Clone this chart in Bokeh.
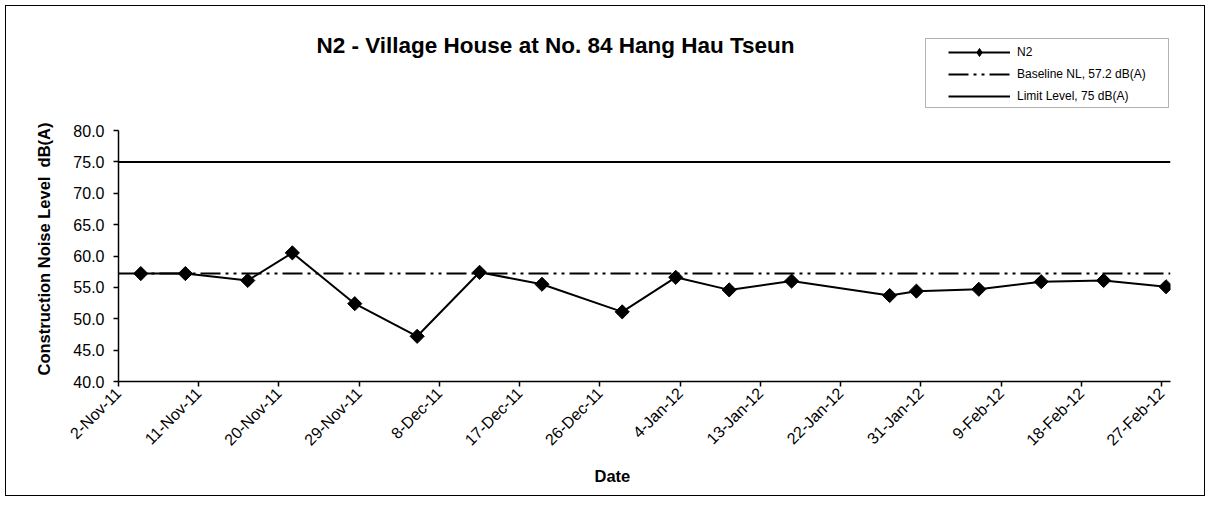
from math import pi
from datetime import datetime
from bokeh.plotting import figure
from bokeh.models import (Range1d, FixedTicker, DatetimeTickFormatter, NumeralTickFormatter,
                          Legend, LegendItem, Label, Title, BoxAnnotation)
from bokeh.embed import file_html
from bokeh.resources import INLINE

# ---- data ----
dates = ["4-Nov-11", "9-Nov-11", "16-Nov-11", "21-Nov-11", "28-Nov-11", "5-Dec-11",
         "12-Dec-11", "19-Dec-11", "28-Dec-11", "3-Jan-12", "9-Jan-12", "16-Jan-12",
         "27-Jan-12", "30-Jan-12", "6-Feb-12", "13-Feb-12", "20-Feb-12", "27-Feb-12"]
n2_levels = [57.2, 57.2, 56.1, 60.5, 52.4, 47.2, 57.4, 55.5, 51.1, 56.6, 54.6, 56.0,
             53.7, 54.4, 54.7, 55.9, 56.1, 55.1]
baseline_level = 57.2
limit_level = 75.0
x_tick_labels = ["2-Nov-11", "11-Nov-11", "20-Nov-11", "29-Nov-11", "8-Dec-11", "17-Dec-11",
                 "26-Dec-11", "4-Jan-12", "13-Jan-12", "22-Jan-12", "31-Jan-12", "9-Feb-12",
                 "18-Feb-12", "27-Feb-12"]
y_ticks = [40, 45, 50, 55, 60, 65, 70, 75, 80]

title_text = "N2 - Village House at No. 84 Hang Hau Tseun"
x_label = "Date"
y_label = "Construction Noise Level\u00a0 dB(A)"
legend_labels = ["N2", "Baseline NL, 57.2 dB(A)", "Limit Level, 75 dB(A)"]

FONT = "Liberation Sans"
DAY_MS = 86400000

# ---- layout (page pixels) ----
OFF = 6                      # 5px css margin + 1px border
W, H = 1200, 491
FRAME_L, FRAME_R, FRAME_T, FRAME_B = 118, 1170, 10, 381   # page coordinates
AXIS_TOP_PX = 130            # page y where 80.0 sits
Y_MIN, Y_MAX = 40, 80


def to_ms(s):
    d = datetime.strptime(s, "%d-%b-%y")
    return int((d - datetime(1970, 1, 1)).total_seconds() * 1000)


# Excel date axis "between tick marks": each day's value sits mid-day
xs = [to_ms(d) + DAY_MS // 2 for d in dates]
tick_ms = [to_ms(t) for t in x_tick_labels]
x_start = tick_ms[0]
x_end = tick_ms[-1] + DAY_MS
y_top = Y_MIN + (Y_MAX - Y_MIN) * (FRAME_B - FRAME_T) / (FRAME_B - AXIS_TOP_PX)

p = figure(width=W, height=H, x_axis_type="datetime",
           output_backend="svg", toolbar_location=None,
           x_range=Range1d(x_start, x_end), y_range=Range1d(Y_MIN, y_top),
           min_border_left=FRAME_L - OFF, min_border_right=W - (FRAME_R - OFF),
           min_border_top=FRAME_T - OFF, min_border_bottom=H - (FRAME_B - OFF))
p.outline_line_color = None
p.grid.visible = False
p.background_fill_color = "white"
p.border_fill_color = "white"
p.styles = {"border": "1px solid black", "margin": "5px 0 0 5px"}

limit_r = p.line([x_start, x_end], [limit_level, limit_level],
                 line_color="black", line_width=2)
base_r = p.line([x_start, x_end], [baseline_level, baseline_level],
                line_color="black", line_width=2, line_dash="20 5 3 5 3 5")
n2_line = p.line(xs, n2_levels, line_color="black", line_width=2)
n2_pts = p.scatter(xs, n2_levels, marker="square", angle=pi / 4, size=10,
                   fill_color="black", line_color="black")
# legend-only diamond swatch (its single point has no y value, so it is not plotted)
n2_key = p.scatter(xs[:1], [float("nan")], marker="diamond", size=13,
                   fill_color="black", line_color="black")

# axes
for ax in (p.xaxis[0], p.yaxis[0]):
    ax.axis_line_color = "black"
    ax.axis_line_width = 1.5
    ax.major_tick_line_color = "black"
    ax.major_tick_line_width = 1.5
    ax.major_tick_out = 5
    ax.major_tick_in = 0
    ax.minor_tick_line_color = None
    ax.major_label_text_font = FONT
    ax.major_label_text_font_size = "16px"
    ax.major_label_text_color = "black"

p.xaxis.ticker = FixedTicker(ticks=tick_ms)
fmt = "%-d-%b-%y"
p.xaxis.formatter = DatetimeTickFormatter(days=fmt, months=fmt, years=fmt, hours=fmt,
                                          minutes=fmt, seconds=fmt, milliseconds=fmt,
                                          microseconds=fmt, hourmin=fmt, minsec=fmt)
p.xaxis.major_label_overrides = {t: lab for t, lab in zip(tick_ms, x_tick_labels)}
p.xaxis.major_label_orientation = pi / 4
p.xaxis.major_label_standoff = 4

p.yaxis.ticker = FixedTicker(ticks=y_ticks)
p.yaxis.bounds = (Y_MIN, Y_MAX)
p.yaxis.formatter = NumeralTickFormatter(format="0.0")
p.yaxis.major_label_standoff = 9

# axis titles as side-panel titles so they can be positioned like the reference
x_title = Title(text=x_label, align="left", offset=594 - FRAME_L, standoff=14,
                text_font=FONT, text_font_style="bold", text_font_size="16.5px",
                text_color="black")
p.add_layout(x_title, "below")
y_title = Title(text=y_label, align="left", offset=6, standoff=35,
                text_font=FONT, text_font_style="bold", text_font_size="16.5px",
                text_color="black")
p.add_layout(y_title, "left")

# legend frame (page 925..1168 x 38..107), legend entries inside
legend_box = BoxAnnotation(left=925 - FRAME_L, right=1168 - FRAME_L,
                           bottom=FRAME_B - 107, top=FRAME_B - 38,
                           left_units="screen", right_units="screen",
                           bottom_units="screen", top_units="screen",
                           fill_color="white", fill_alpha=1,
                           line_color="black", line_width=1)
p.add_layout(legend_box)

legend = Legend(items=[
    LegendItem(label=legend_labels[0], renderers=[n2_line, n2_key]),
    LegendItem(label=legend_labels[1], renderers=[base_r]),
    LegendItem(label=legend_labels[2], renderers=[limit_r]),
], location=(948 - FRAME_L, FRAME_B - 106))
legend.border_line_color = None
legend.background_fill_alpha = 0
legend.label_text_font = FONT
legend.label_text_font_size = "12px"
legend.label_text_color = "black"
legend.glyph_width = 62
legend.glyph_height = 20
legend.label_height = 20
legend.spacing = 2
legend.padding = 0
legend.label_standoff = 7
legend.margin = 0
p.add_layout(legend)

title = Label(x=555 - FRAME_L, y=FRAME_B - 45, x_units="screen", y_units="screen",
              text=title_text, text_font=FONT, text_font_style="bold",
              text_font_size="22.5px", text_color="black",
              text_align="center", text_baseline="middle")
p.add_layout(title)

open("out.html", "w").write(file_html(p, INLINE))
